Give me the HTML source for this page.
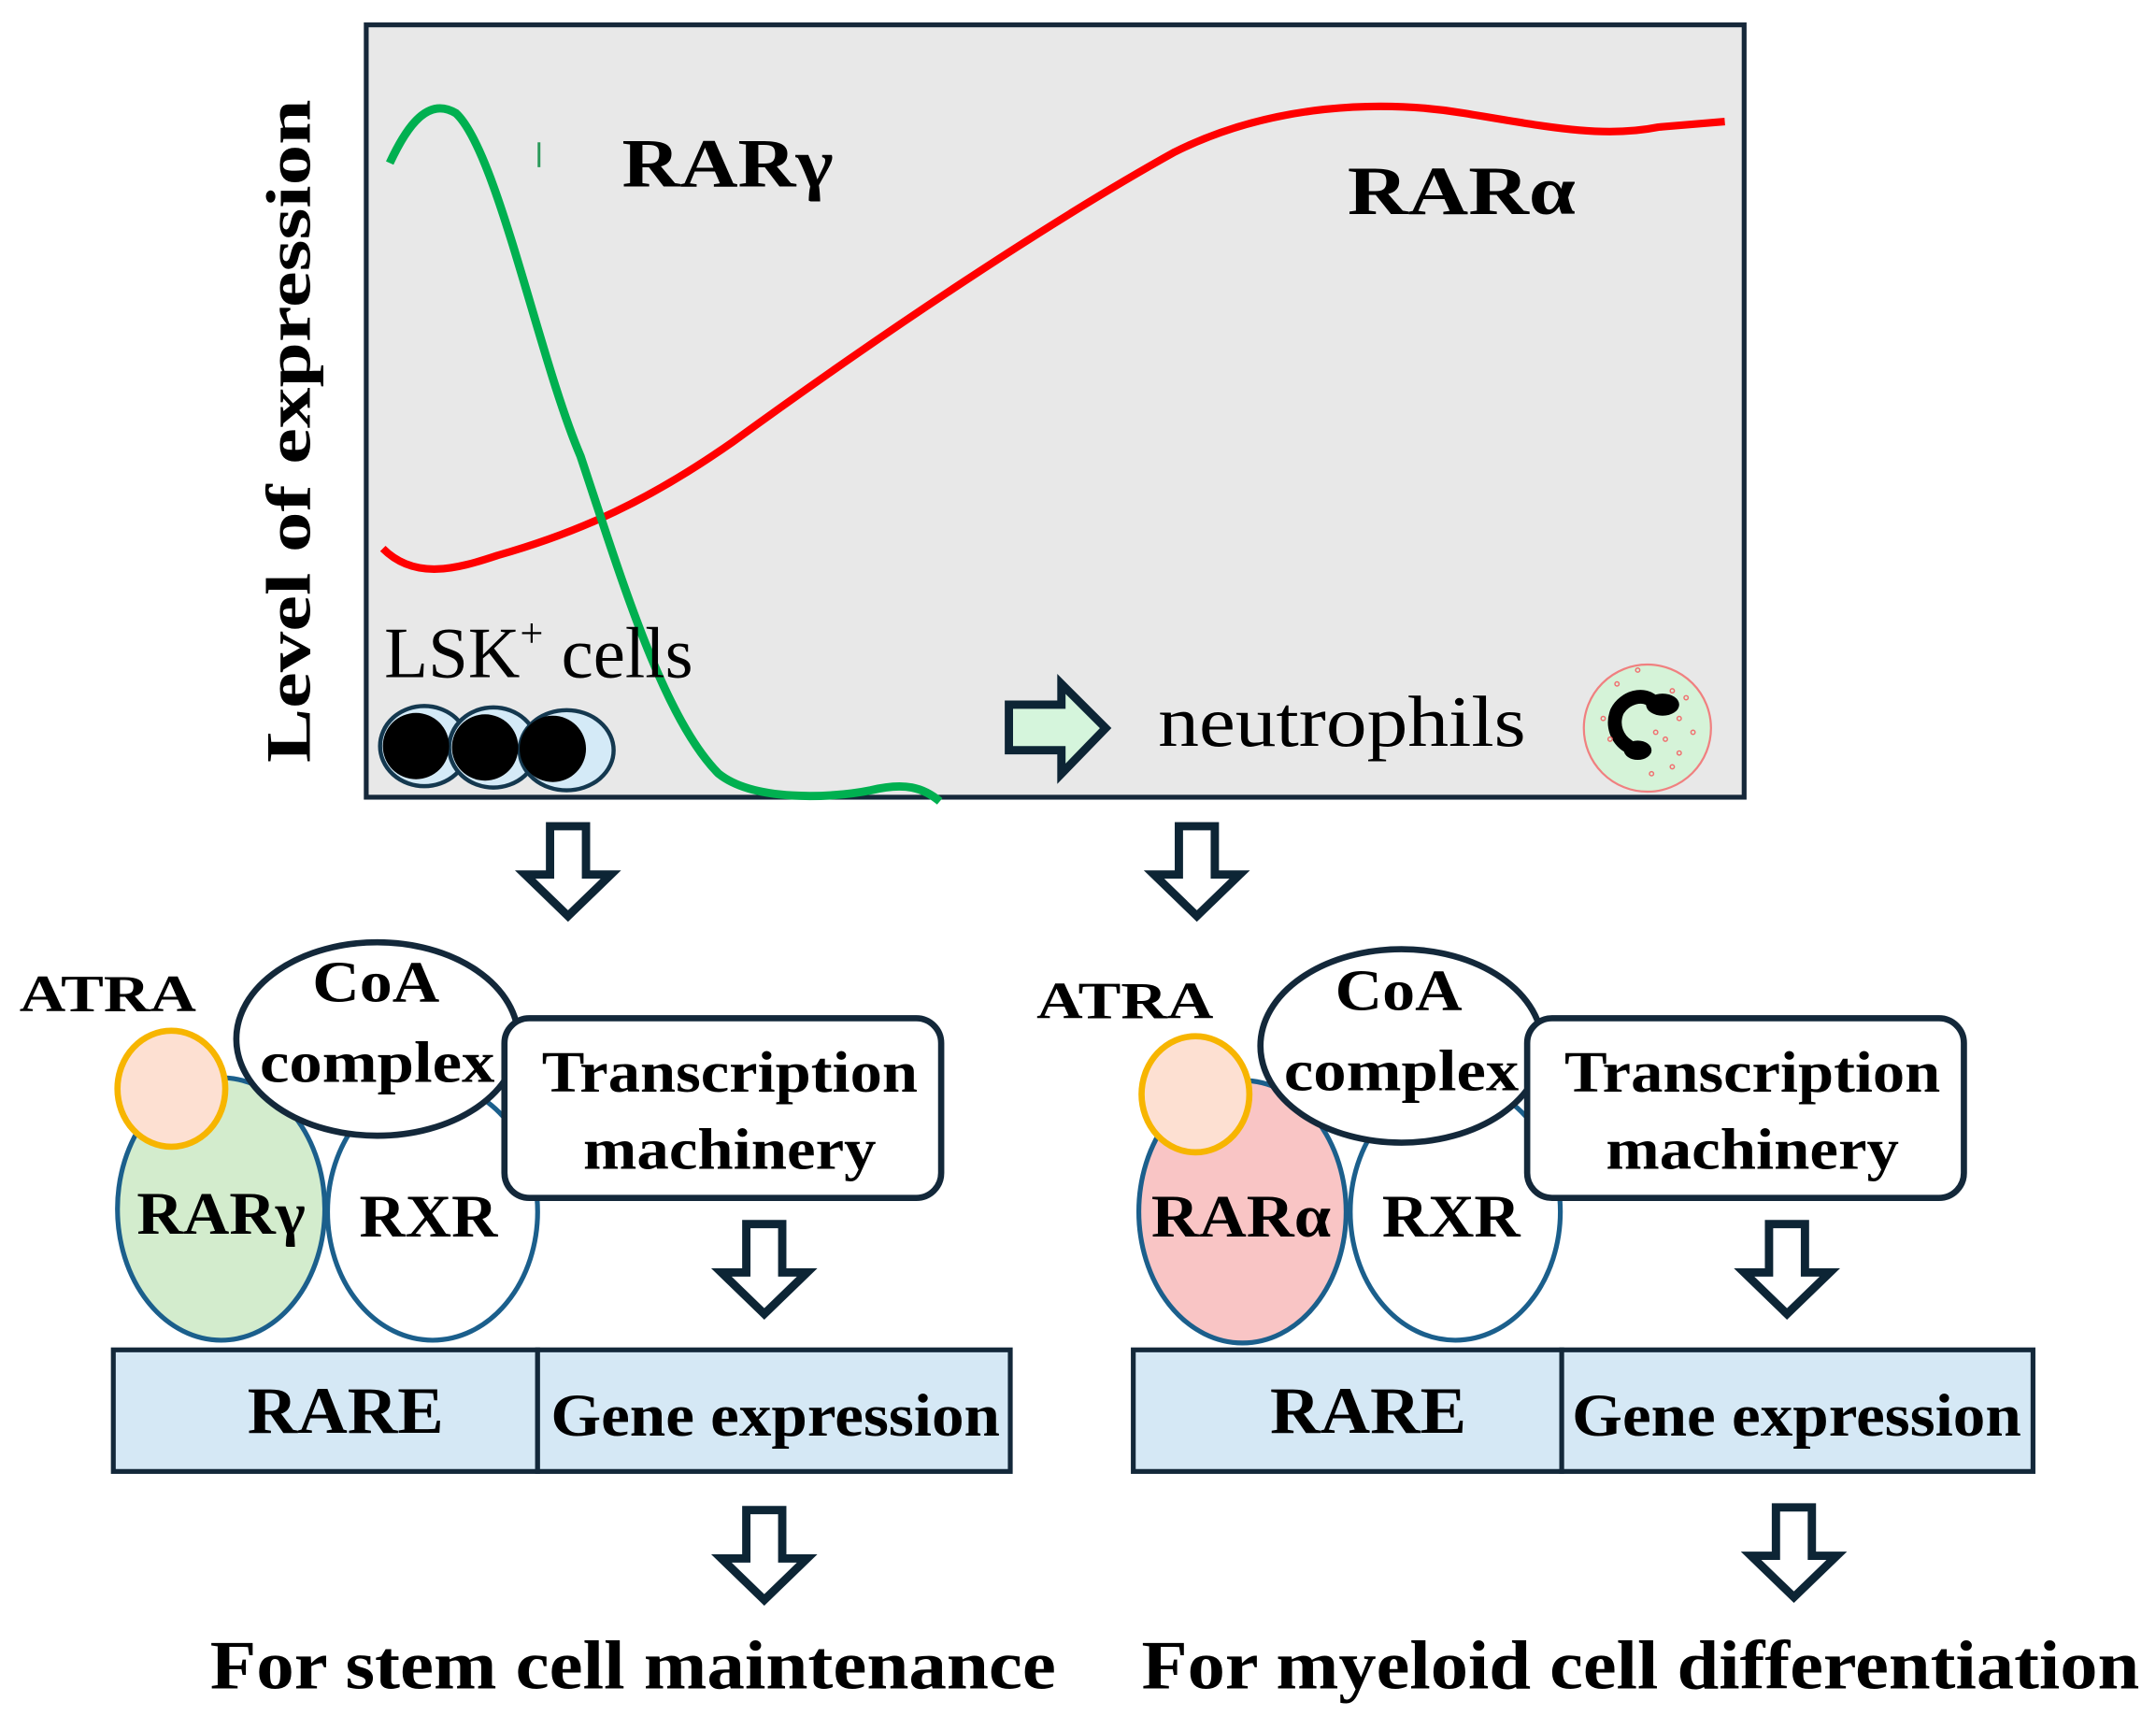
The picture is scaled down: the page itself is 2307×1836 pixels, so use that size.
<!DOCTYPE html>
<html><head><meta charset="utf-8"><style>
html,body{margin:0;padding:0;background:#fff;}
svg{display:block;}
svg text{font-family:"Liberation Serif","Times New Roman",Times,serif;fill:#000;}
.b{font-weight:bold;}
</style></head><body>
<svg width="2307" height="1836" viewBox="0 0 1560 1242" preserveAspectRatio="none" xmlns="http://www.w3.org/2000/svg" font-family="Liberation Serif, Times New Roman, Times, serif">
<rect x="0" y="0" width="1560" height="1242" fill="#fff"/>
<rect x="265" y="18" width="997" height="559" fill="#e8e8e8" stroke="#16283a" stroke-width="3.5"/>
<text class="b" transform="translate(224,312) rotate(-90)" text-anchor="middle" font-size="46" textLength="480" lengthAdjust="spacingAndGlyphs">Level of expression</text>
<path d="M277,397 C300,420 330,412 360,402 C420,385 470,362 530,320 C640,240 760,160 850,110 C920,75 1000,72 1060,82 C1120,92 1160,100 1200,92 L1248,88" fill="none" stroke="#ff0000" stroke-width="5.5"/>
<path d="M282,118 C295,90 310,70 330,82 C360,110 390,260 420,330 C450,420 480,520 520,560 C545,580 600,578 630,572 C655,566 668,570 680,580" fill="none" stroke="#00b050" stroke-width="6"/>
<rect x="389" y="103" width="2" height="18" fill="#2a9a5a"/>
<text class="b" x="450" y="135" font-size="50" textLength="153" lengthAdjust="spacingAndGlyphs">RARγ</text>
<text class="b" x="975" y="155" font-size="50" textLength="165" lengthAdjust="spacingAndGlyphs">RARα</text>
<text x="278" y="490" font-size="52">LSK<tspan dy="-22" font-size="30">+</tspan><tspan dy="22"> cells</tspan></text>
<g stroke="#14384f" stroke-width="3">
<ellipse cx="307" cy="540" rx="32" ry="29" fill="#d4eaf7"/>
<ellipse cx="357" cy="541" rx="32" ry="29" fill="#d4eaf7"/>
<ellipse cx="410" cy="543" rx="34" ry="29" fill="#d4eaf7"/>
</g>
<circle cx="301" cy="540" r="24" fill="#000"/>
<circle cx="351" cy="541" r="24" fill="#000"/>
<circle cx="400" cy="542" r="24" fill="#000"/>
<path d="M730,510 L768,510 L768,495 L800,527 L768,560 L768,543 L730,543 Z" fill="#d5f5dc" stroke="#0d2535" stroke-width="6" stroke-linejoin="miter"/>
<text x="838" y="540" font-size="52" textLength="266" lengthAdjust="spacingAndGlyphs">neutrophils</text>
<circle cx="1192" cy="527" r="46" fill="#d5f3d8" stroke="#f08080" stroke-width="1.5"/>
<path d="M1197,509 C1190,500 1175,505 1170,515 C1166,525 1170,535 1178,540" fill="none" stroke="#000" stroke-width="10" stroke-linecap="round"/>
<ellipse cx="1203" cy="510" rx="12" ry="8" fill="#000"/>
<ellipse cx="1185" cy="543" rx="10" ry="7" fill="#000"/>
<g fill="none" stroke="#f07070" stroke-width="1">
<circle cx="1170" cy="495" r="1.5"/><circle cx="1210" cy="500" r="1.5"/><circle cx="1215" cy="520" r="1.5"/><circle cx="1198" cy="530" r="1.5"/><circle cx="1205" cy="535" r="1.5"/><circle cx="1225" cy="530" r="1.5"/><circle cx="1195" cy="560" r="1.5"/><circle cx="1210" cy="555" r="1.5"/><circle cx="1160" cy="520" r="1.5"/><circle cx="1165" cy="535" r="1.5"/><circle cx="1215" cy="545" r="1.5"/><circle cx="1185" cy="485" r="1.5"/><circle cx="1220" cy="505" r="1.5"/>
</g>
<g fill="#fff" stroke="#0d2535" stroke-width="6" stroke-linejoin="miter">
<path d="M398,598 L424,598 L424,633 L442,633 L411,663 L380,633 L398,633 Z"/>
<path d="M853,598 L879,598 L879,633 L897,633 L866,663 L835,633 L853,633 Z"/>
<path d="M540,886 L566,886 L566,921 L584,921 L553,951 L522,921 L540,921 Z"/>
<path d="M1280,886 L1306,886 L1306,921 L1324,921 L1293,951 L1262,921 L1280,921 Z"/>
<path d="M540,1093 L566,1093 L566,1128 L584,1128 L553,1158 L522,1128 L540,1128 Z"/>
<path d="M1285,1091 L1311,1091 L1311,1126 L1329,1126 L1298,1156 L1267,1126 L1285,1126 Z"/>
</g>
<g>
<text class="b" x="14" y="732" font-size="38" textLength="128" lengthAdjust="spacingAndGlyphs">ATRA</text>
<ellipse cx="160" cy="875" rx="75" ry="95" fill="#d3eccd" stroke="#1b5f8c" stroke-width="3.5"/>
<ellipse cx="313" cy="877" rx="76" ry="93" fill="#fff" stroke="#1b5f8c" stroke-width="3.5"/>
<ellipse cx="124" cy="788" rx="39" ry="42" fill="#fde0d2" stroke="#f7b500" stroke-width="4.5"/>
<ellipse cx="273" cy="752" rx="102" ry="70" fill="#fff" stroke="#13283a" stroke-width="4.5"/>
<rect x="365" y="737" width="316" height="130" rx="18" fill="#fff" stroke="#13283a" stroke-width="4.5"/>
<text class="b" x="272" y="725" font-size="42" text-anchor="middle" textLength="92" lengthAdjust="spacingAndGlyphs">CoA</text>
<text class="b" x="273" y="783" font-size="42" text-anchor="middle" textLength="170" lengthAdjust="spacingAndGlyphs">complex</text>
<text class="b" x="528" y="790" font-size="42" text-anchor="middle" textLength="272" lengthAdjust="spacingAndGlyphs">Transcription</text>
<text class="b" x="528" y="846" font-size="42" text-anchor="middle" textLength="212" lengthAdjust="spacingAndGlyphs">machinery</text>
<text class="b" x="160" y="893" font-size="44" text-anchor="middle" textLength="122" lengthAdjust="spacingAndGlyphs">RARγ</text>
<text class="b" x="310" y="895" font-size="44" text-anchor="middle" textLength="100" lengthAdjust="spacingAndGlyphs">RXR</text>
<rect x="82" y="977" width="307" height="88" fill="#d5e8f5" stroke="#13283a" stroke-width="3.5"/>
<rect x="389" y="977" width="342" height="88" fill="#d5e8f5" stroke="#13283a" stroke-width="3.5"/>
<text class="b" x="250" y="1037" font-size="48" text-anchor="middle" textLength="142" lengthAdjust="spacingAndGlyphs">RARE</text>
<text class="b" x="561" y="1039" font-size="44" text-anchor="middle" textLength="325" lengthAdjust="spacingAndGlyphs">Gene expression</text>
<text class="b" x="458" y="1222" font-size="50" text-anchor="middle" textLength="612" lengthAdjust="spacingAndGlyphs">For stem cell maintenance</text>
</g>
<g>
<text class="b" x="750" y="737" font-size="38" textLength="128" lengthAdjust="spacingAndGlyphs">ATRA</text>
<ellipse cx="899" cy="877" rx="75" ry="95" fill="#f9c5c5" stroke="#1b5f8c" stroke-width="3.5"/>
<ellipse cx="1053" cy="877" rx="76" ry="93" fill="#fff" stroke="#1b5f8c" stroke-width="3.5"/>
<ellipse cx="865" cy="792" rx="39" ry="42" fill="#fde0d2" stroke="#f7b500" stroke-width="4.5"/>
<ellipse cx="1014" cy="757" rx="102" ry="70" fill="#fff" stroke="#13283a" stroke-width="4.5"/>
<rect x="1105" y="737" width="316" height="130" rx="18" fill="#fff" stroke="#13283a" stroke-width="4.5"/>
<text class="b" x="1012" y="731" font-size="42" text-anchor="middle" textLength="92" lengthAdjust="spacingAndGlyphs">CoA</text>
<text class="b" x="1014" y="789" font-size="42" text-anchor="middle" textLength="170" lengthAdjust="spacingAndGlyphs">complex</text>
<text class="b" x="1268" y="790" font-size="42" text-anchor="middle" textLength="272" lengthAdjust="spacingAndGlyphs">Transcription</text>
<text class="b" x="1268" y="846" font-size="42" text-anchor="middle" textLength="212" lengthAdjust="spacingAndGlyphs">machinery</text>
<text class="b" x="898" y="895" font-size="44" text-anchor="middle" textLength="130" lengthAdjust="spacingAndGlyphs">RARα</text>
<text class="b" x="1050" y="895" font-size="44" text-anchor="middle" textLength="100" lengthAdjust="spacingAndGlyphs">RXR</text>
<rect x="820" y="977" width="310" height="88" fill="#d5e8f5" stroke="#13283a" stroke-width="3.5"/>
<rect x="1130" y="977" width="341" height="88" fill="#d5e8f5" stroke="#13283a" stroke-width="3.5"/>
<text class="b" x="990" y="1037" font-size="48" text-anchor="middle" textLength="142" lengthAdjust="spacingAndGlyphs">RARE</text>
<text class="b" x="1300" y="1039" font-size="44" text-anchor="middle" textLength="325" lengthAdjust="spacingAndGlyphs">Gene expression</text>
<text class="b" x="1187" y="1222" font-size="50" text-anchor="middle" textLength="722" lengthAdjust="spacingAndGlyphs">For myeloid cell differentiation</text>
</g>
</svg>
</body></html>
